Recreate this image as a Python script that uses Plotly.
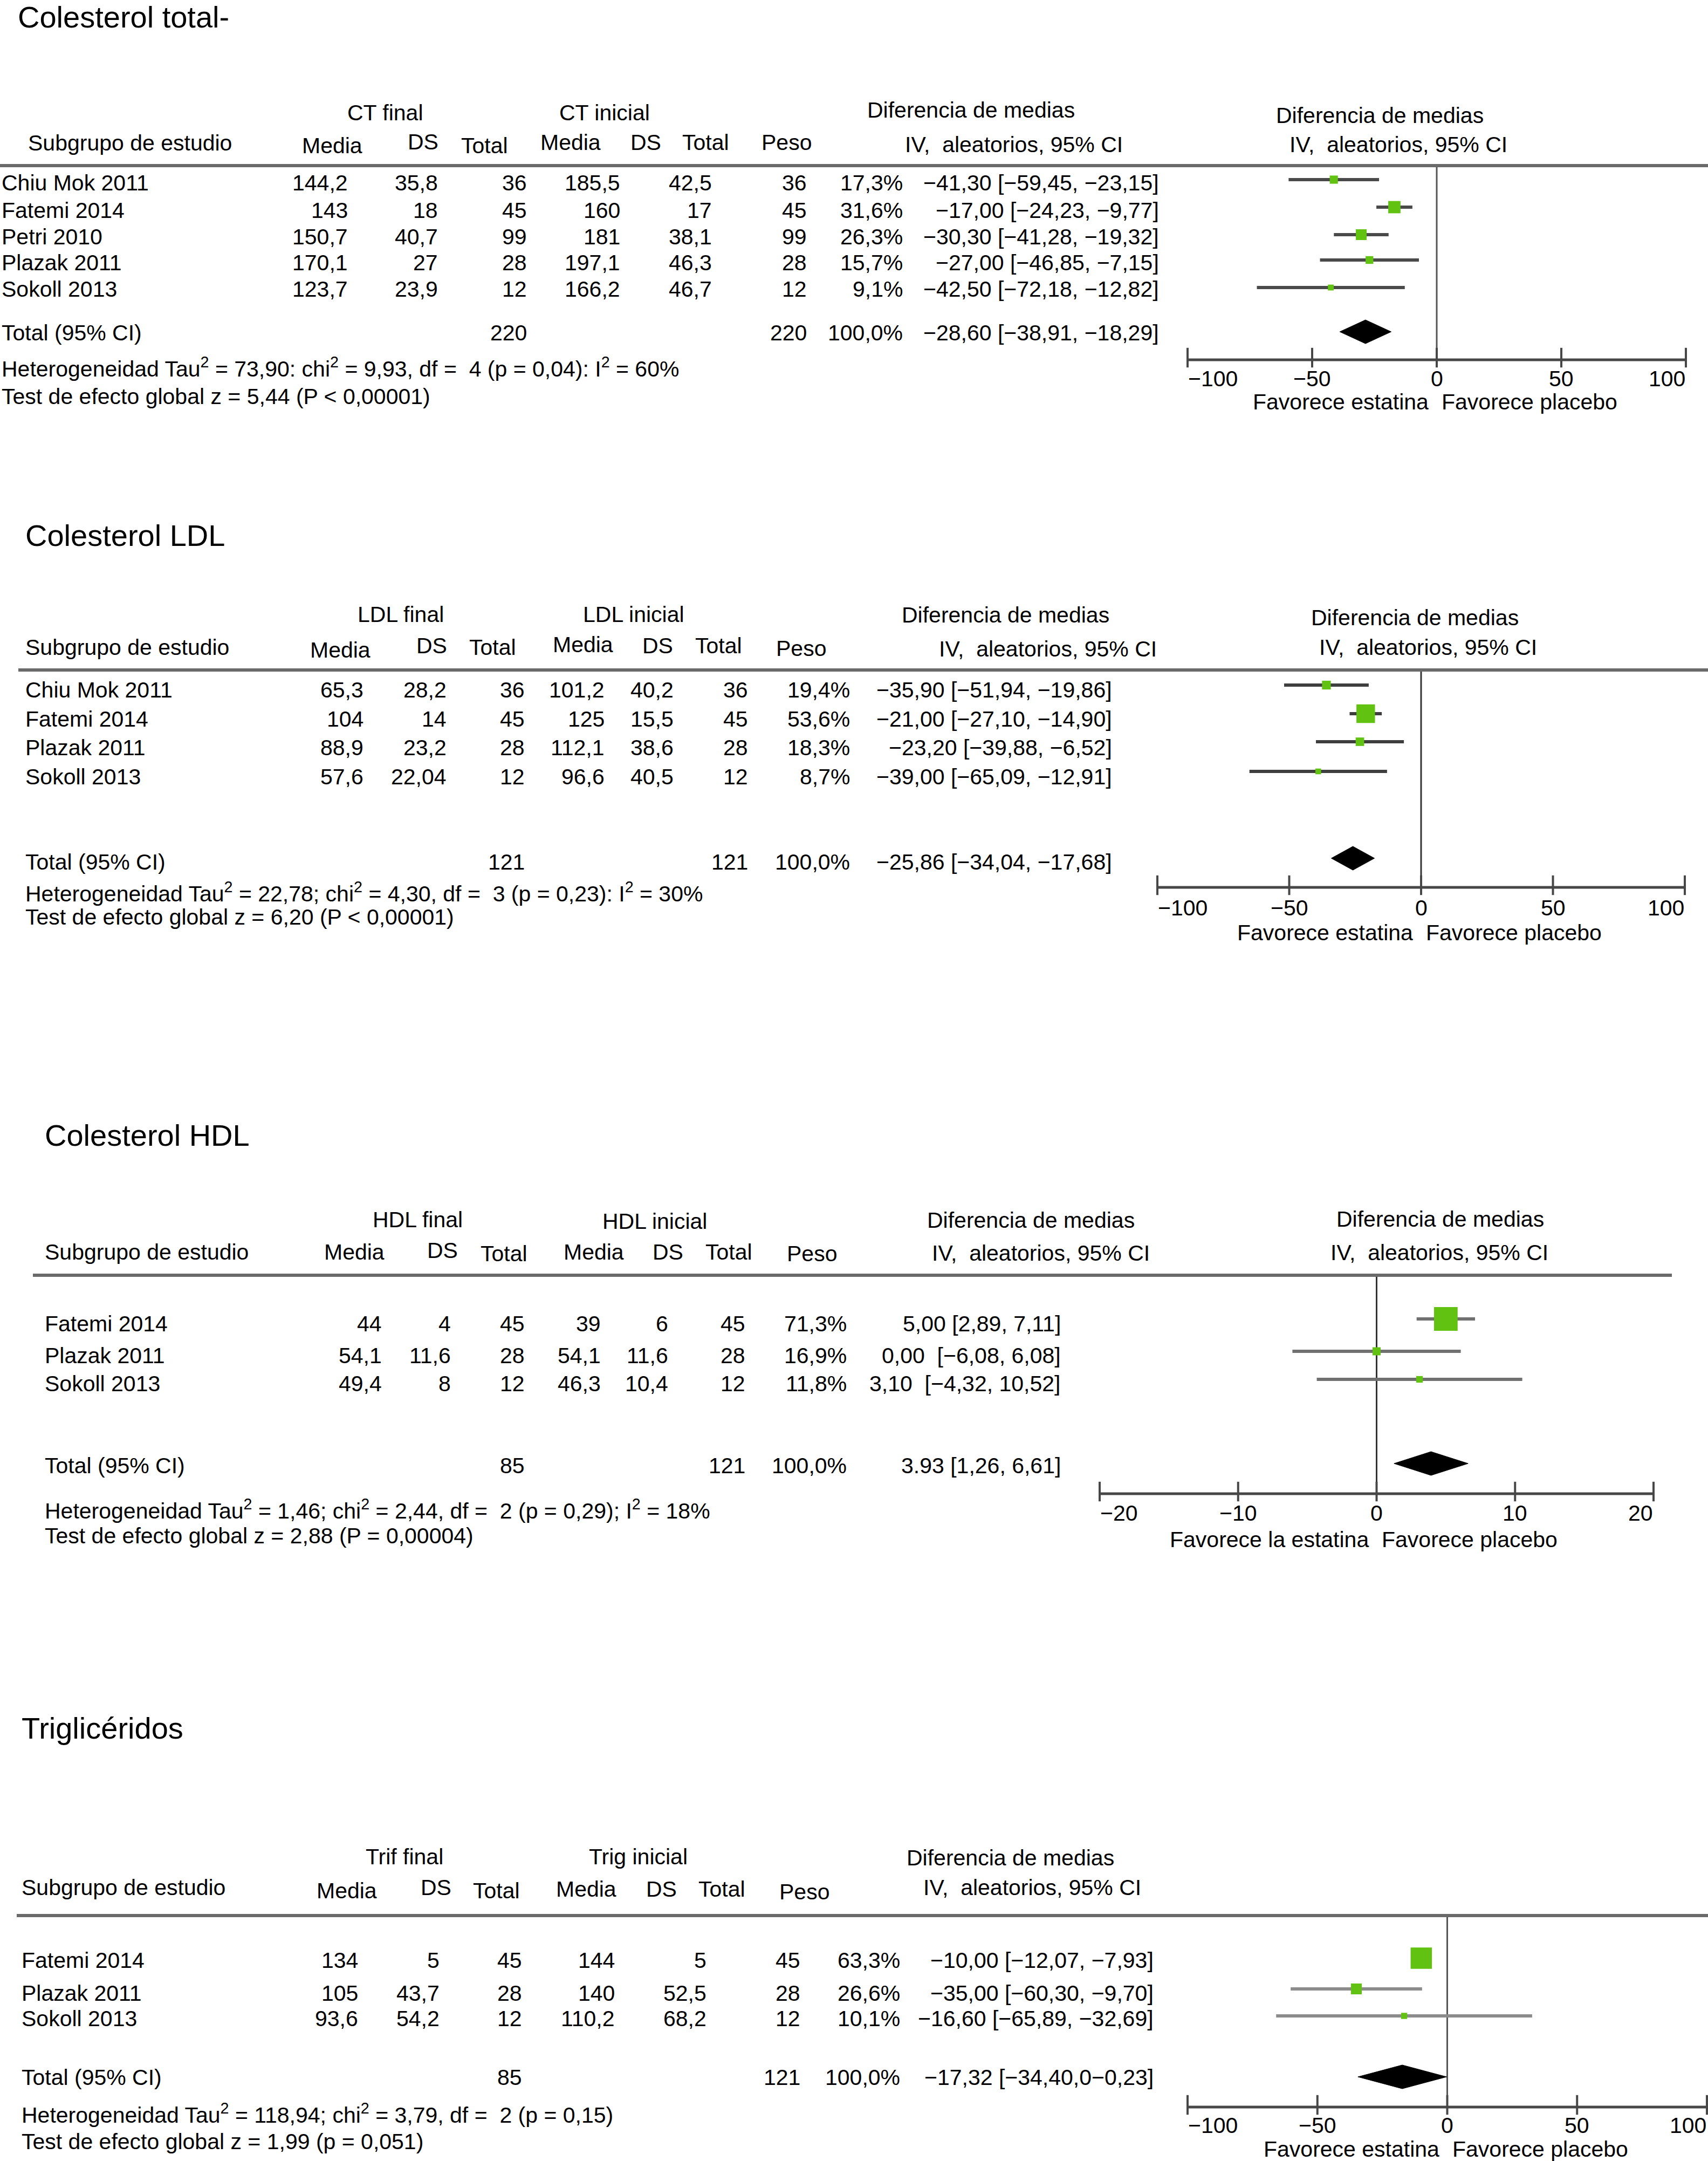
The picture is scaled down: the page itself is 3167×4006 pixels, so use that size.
import plotly.graph_objects as go

W, H = 3167, 4006
FONT = "Liberation Sans, Arial, Helvetica, sans-serif"
GREEN = "#62C212"
M = "\u2212"
NB = "\u00a0"

col_headers = ["Subgrupo de estudio", "Media", "DS", "Total", "Media", "DS", "Total", "Peso"]
dm_header = ["Diferencia de medias", "IV,  aleatorios, 95% CI"]
total_label = "Total (95% CI)"

# ---------------- Panel 1: Colesterol total ----------------
ct_title = "Colesterol total-"
ct_groups = ["CT final", "CT inicial"]
ct_studies = ["Chiu Mok 2011", "Fatemi 2014", "Petri 2010", "Plazak 2011", "Sokoll 2013"]
ct_final_mean = [144.2, 143, 150.7, 170.1, 123.7]
ct_final_sd = [35.8, 18, 40.7, 27, 23.9]
ct_final_n = [36, 45, 99, 28, 12]
ct_init_mean = [185.5, 160, 181, 197.1, 166.2]
ct_init_sd = [42.5, 17, 38.1, 46.3, 46.7]
ct_init_n = [36, 45, 99, 28, 12]
ct_weight = [17.3, 31.6, 26.3, 15.7, 9.1]
ct_md = [-41.30, -17.00, -30.30, -27.00, -42.50]
ct_lo = [-59.45, -24.23, -41.28, -46.85, -72.18]
ct_hi = [-23.15, -9.77, -19.32, -7.15, -12.82]
ct_ci_labels = [M + "41,30 [" + M + "59,45, " + M + "23,15]",
                M + "17,00 [" + M + "24,23, " + M + "9,77]",
                M + "30,30 [" + M + "41,28, " + M + "19,32]",
                M + "27,00 [" + M + "46,85, " + M + "7,15]",
                M + "42,50 [" + M + "72,18, " + M + "12,82]"]
ct_total_n = [220, 220]
ct_total_md, ct_total_lo, ct_total_hi = -28.60, -38.91, -18.29
ct_total_ci_label = M + "28,60 [" + M + "38,91, " + M + "18,29]"
ct_het = "Heterogeneidad Tau<sup>2</sup> = 73,90: chi<sup>2</sup> = 9,93, df = " + NB + "4 (p = 0,04): I<sup>2</sup> = 60%"
ct_test = "Test de efecto global z = 5,44 (P &lt; 0,00001)"
ct_ticks = [-100, -50, 0, 50, 100]
ct_tick_labels = [M + "100", M + "50", "0", "50", "100"]
ct_favours = ["Favorece estatina", "Favorece placebo"]

# ---------------- Panel 2: Colesterol LDL ----------------
ldl_title = "Colesterol LDL"
ldl_groups = ["LDL final", "LDL inicial"]
ldl_studies = ["Chiu Mok 2011", "Fatemi 2014", "Plazak 2011", "Sokoll 2013"]
ldl_final_mean = [65.3, 104, 88.9, 57.6]
ldl_final_sd = [28.2, 14, 23.2, 22.04]
ldl_final_n = [36, 45, 28, 12]
ldl_init_mean = [101.2, 125, 112.1, 96.6]
ldl_init_sd = [40.2, 15.5, 38.6, 40.5]
ldl_init_n = [36, 45, 28, 12]
ldl_weight = [19.4, 53.6, 18.3, 8.7]
ldl_md = [-35.90, -21.00, -23.20, -39.00]
ldl_lo = [-51.94, -27.10, -39.88, -65.09]
ldl_hi = [-19.86, -14.90, -6.52, -12.91]
ldl_ci_labels = [M + "35,90 [" + M + "51,94, " + M + "19,86]",
                 M + "21,00 [" + M + "27,10, " + M + "14,90]",
                 M + "23,20 [" + M + "39,88, " + M + "6,52]",
                 M + "39,00 [" + M + "65,09, " + M + "12,91]"]
ldl_total_n = [121, 121]
ldl_total_md, ldl_total_lo, ldl_total_hi = -25.86, -34.04, -17.68
ldl_total_ci_label = M + "25,86 [" + M + "34,04, " + M + "17,68]"
ldl_het = "Heterogeneidad Tau<sup>2</sup> = 22,78; chi<sup>2</sup> = 4,30, df = " + NB + "3 (p = 0,23): I<sup>2</sup> = 30%"
ldl_test = "Test de efecto global z = 6,20 (P &lt; 0,00001)"
ldl_ticks = [-100, -50, 0, 50, 100]
ldl_tick_labels = [M + "100", M + "50", "0", "50", "100"]
ldl_favours = ["Favorece estatina", "Favorece placebo"]

# ---------------- Panel 3: Colesterol HDL ----------------
hdl_title = "Colesterol HDL"
hdl_groups = ["HDL final", "HDL inicial"]
hdl_studies = ["Fatemi 2014", "Plazak 2011", "Sokoll 2013"]
hdl_final_mean = [44, 54.1, 49.4]
hdl_final_sd = [4, 11.6, 8]
hdl_final_n = [45, 28, 12]
hdl_init_mean = [39, 54.1, 46.3]
hdl_init_sd = [6, 11.6, 10.4]
hdl_init_n = [45, 28, 12]
hdl_weight = [71.3, 16.9, 11.8]
hdl_md = [5.00, 0.00, 3.10]
hdl_lo = [2.89, -6.08, -4.32]
hdl_hi = [7.11, 6.08, 10.52]
hdl_ci_labels = ["5,00 [2,89, 7,11]",
                 "0,00 " + NB + "[" + M + "6,08, 6,08]",
                 "3,10 " + NB + "[" + M + "4,32, 10,52]"]
hdl_total_n = [85, 121]
hdl_total_md, hdl_total_lo, hdl_total_hi = 3.93, 1.26, 6.61
hdl_total_ci_label = "3.93 [1,26, 6,61]"
hdl_het = "Heterogeneidad Tau<sup>2</sup> = 1,46; chi<sup>2</sup> = 2,44, df = " + NB + "2 (p = 0,29); I<sup>2</sup> = 18%"
hdl_test = "Test de efecto global z = 2,88 (P = 0,00004)"
hdl_ticks = [-20, -10, 0, 10, 20]
hdl_tick_labels = [M + "20", M + "10", "0", "10", "20"]
hdl_favours = ["Favorece la estatina", "Favorece placebo"]

# ---------------- Panel 4: Triglicéridos ----------------
tg_title = "Triglicéridos"
tg_groups = ["Trif final", "Trig inicial"]
tg_studies = ["Fatemi 2014", "Plazak 2011", "Sokoll 2013"]
tg_final_mean = [134, 105, 93.6]
tg_final_sd = [5, 43.7, 54.2]
tg_final_n = [45, 28, 12]
tg_init_mean = [144, 140, 110.2]
tg_init_sd = [5, 52.5, 68.2]
tg_init_n = [45, 28, 12]
tg_weight = [63.3, 26.6, 10.1]
tg_md = [-10.00, -35.00, -16.60]
tg_lo = [-12.07, -60.30, -65.89]
tg_hi = [-7.93, -9.70, 32.69]
tg_ci_labels = [M + "10,00 [" + M + "12,07, " + M + "7,93]",
                M + "35,00 [" + M + "60,30, " + M + "9,70]",
                M + "16,60 [" + M + "65,89, " + M + "32,69]"]
tg_total_n = [85, 121]
tg_total_md, tg_total_lo, tg_total_hi = -17.32, -34.40, -0.23
tg_total_ci_label = M + "17,32 [" + M + "34,40,0" + M + "0,23]"
tg_het = "Heterogeneidad Tau<sup>2</sup> = 118,94; chi<sup>2</sup> = 3,79, df = " + NB + "2 (p = 0,15)"
tg_test = "Test de efecto global z = 1,99 (p = 0,051)"
tg_ticks = [-100, -50, 0, 50, 100]
tg_tick_labels = [M + "100", M + "50", "0", "50", "100"]
tg_favours = ["Favorece estatina", "Favorece placebo"]


def fmt(v):
    return str(v).replace(".", ",")


def fmt_w(w):
    return ("%.1f%%" % w).replace(".", ",")


panels = [
    dict(title=ct_title, groups=ct_groups, studies=ct_studies,
         cols=[ct_final_mean, ct_final_sd, ct_final_n, ct_init_mean, ct_init_sd, ct_init_n],
         weight=ct_weight, md=ct_md, lo=ct_lo, hi=ct_hi, ci_labels=ct_ci_labels,
         total_n=ct_total_n, tmd=ct_total_md, tlo=ct_total_lo, thi=ct_total_hi,
         tci=ct_total_ci_label, het=ct_het, test=ct_test, ticks=ct_ticks,
         tick_labels=ct_tick_labels, fav=ct_favours,
         # layout (pixels)
         title_xy=(32, 31), group_x=[714, 1121], group_y=[209, 209],
         hdr_x=[51, 616, 784, 898, 1058, 1197, 1308, 1458], hdr_y=[265, 270, 263, 270, 264, 264, 264, 264],
         dm_text=[(1800, 204), (1880, 268)], dm_plot=[(2558, 214), (2593, 268)],
         hline=(0, 3167, 307), name_x=2, row_y=[339, 390, 439, 487, 536],
         forest_y=[333, 384, 435, 482, 533],
         right=[646, 813, 978, 1151, 1321, 1497, 1675, 2150],
         total_y=617, het_y=681, test_y=735,
         tmin_px=2202, tmax_px=3126, axis_y=667, top_y=307, dia_y=615, fav_y=745, tick_y=702,
         ci_color="#4a4a4a", zero_color="#555555"),
    dict(title=ldl_title, groups=ldl_groups, studies=ldl_studies,
         cols=[ldl_final_mean, ldl_final_sd, ldl_final_n, ldl_init_mean, ldl_init_sd, ldl_init_n],
         weight=ldl_weight, md=ldl_md, lo=ldl_lo, hi=ldl_hi, ci_labels=ldl_ci_labels,
         total_n=ldl_total_n, tmd=ldl_total_md, tlo=ldl_total_lo, thi=ldl_total_hi,
         tci=ldl_total_ci_label, het=ldl_het, test=ldl_test, ticks=ldl_ticks,
         tick_labels=ldl_tick_labels, fav=ldl_favours,
         title_xy=(46, 993), group_x=[743, 1175], group_y=[1139, 1139],
         hdr_x=[46, 631, 800, 913, 1081, 1219, 1332, 1485], hdr_y=[1200, 1205, 1197, 1200, 1195, 1197, 1197, 1202],
         dm_text=[(1864, 1140), (1943, 1203)], dm_plot=[(2623, 1145), (2648, 1200)],
         hline=(34, 3167, 1242), name_x=46, row_y=[1279, 1333, 1386, 1440],
         forest_y=[1270, 1323, 1375, 1430],
         right=[675, 829, 974, 1122, 1250, 1388, 1577, 2063],
         total_y=1598, het_y=1654, test_y=1700,
         tmin_px=2146, tmax_px=3124, axis_y=1645, top_y=1242, dia_y=1591, fav_y=1729, tick_y=1683,
         ci_color="#3e3e3e", zero_color="#333333"),
    dict(title=hdl_title, groups=hdl_groups, studies=hdl_studies,
         cols=[hdl_final_mean, hdl_final_sd, hdl_final_n, hdl_init_mean, hdl_init_sd, hdl_init_n],
         weight=hdl_weight, md=hdl_md, lo=hdl_lo, hi=hdl_hi, ci_labels=hdl_ci_labels,
         total_n=hdl_total_n, tmd=hdl_total_md, tlo=hdl_total_lo, thi=hdl_total_hi,
         tci=hdl_total_ci_label, het=hdl_het, test=hdl_test, ticks=hdl_ticks,
         tick_labels=hdl_tick_labels, fav=hdl_favours,
         title_xy=(82, 2104), group_x=[774, 1214], group_y=[2261, 2264],
         hdr_x=[82, 657, 820, 934, 1101, 1238, 1351, 1505], hdr_y=[2321, 2321, 2318, 2324, 2321, 2321, 2321, 2324],
         dm_text=[(1911, 2262), (1930, 2323)], dm_plot=[(2670, 2260), (2669, 2322)],
         hline=(61, 3100, 2364), name_x=82, row_y=[2454, 2513, 2565],
         forest_y=[2445, 2505, 2557],
         right=[709, 837, 974, 1115, 1240, 1383, 1571, 1968],
         total_y=2717, het_y=2798, test_y=2847,
         tmin_px=2039, tmax_px=3066, axis_y=2769, top_y=2364, dia_y=2713, fav_y=2854, tick_y=2805,
         ci_color="#707070", zero_color="#333333"),
    dict(title=tg_title, groups=tg_groups, studies=tg_studies,
         cols=[tg_final_mean, tg_final_sd, tg_final_n, tg_init_mean, tg_init_sd, tg_init_n],
         weight=tg_weight, md=tg_md, lo=tg_lo, hi=tg_hi, ci_labels=tg_ci_labels,
         total_n=tg_total_n, tmd=tg_total_md, tlo=tg_total_lo, thi=tg_total_hi,
         tci=tg_total_ci_label, het=tg_het, test=tg_test, ticks=tg_ticks,
         tick_labels=tg_tick_labels, fav=tg_favours,
         title_xy=(39, 3203), group_x=[750, 1183], group_y=[3442, 3442],
         hdr_x=[39, 643, 808, 920, 1087, 1226, 1338, 1491], hdr_y=[3499, 3505, 3499, 3505, 3502, 3502, 3502, 3507],
         dm_text=[(1873, 3444), (1914, 3499)], dm_plot=None,
         hline=(31, 3167, 3551), name_x=39, row_y=[3634, 3695, 3742],
         forest_y=[3630, 3687, 3737],
         right=[665, 816, 969, 1141, 1311, 1485, 1670, 2140],
         total_y=3851, het_y=3918, test_y=3970,
         tmin_px=2202, tmax_px=3165, axis_y=3906, top_y=3551, dia_y=3850, fav_y=3984, tick_y=3940,
         ci_color="#8c8c8c", zero_color="#555555"),
]

fig = go.Figure()
annotations = []
shapes = []


def px(x):
    return x / W


def py(y):
    return 1 - y / H


def text(x, y, s, anchor="left", size=41):
    annotations.append(dict(x=px(x), y=py(y), xref="paper", yref="paper", text=s,
                            showarrow=False, xanchor=anchor, yanchor="middle", borderpad=0,
                            font=dict(size=size, family=FONT, color="black")))


layout_axes = {}
for i, p in enumerate(panels):
    k = "" if i == 0 else str(i + 1)
    xa, ya = "x" + k, "y" + k

    # ----- table text -----
    text(p["title_xy"][0], p["title_xy"][1], p["title"], size=56)
    for g, gx, gy in zip(p["groups"], p["group_x"], p["group_y"]):
        text(gx, gy, g, anchor="center")
    for j, (h, hx, hy) in enumerate(zip(col_headers, p["hdr_x"], p["hdr_y"])):
        text(hx, hy, h, anchor="left" if j == 0 else "center")
    for (tx, ty), s in zip(p["dm_text"], dm_header):
        text(tx, ty, s, anchor="center")
    if p["dm_plot"]:
        for (tx, ty), s in zip(p["dm_plot"], dm_header):
            text(tx, ty, s, anchor="center")
    x0, x1, hy = p["hline"]
    shapes.append(dict(type="line", xref="paper", yref="paper", x0=px(x0), x1=px(x1),
                       y0=py(hy), y1=py(hy), line=dict(color="#6a6a6a", width=6)))

    r = p["right"]
    for s_i, name in enumerate(p["studies"]):
        y = p["row_y"][s_i]
        text(p["name_x"], y, name)
        for c_i, col in enumerate(p["cols"]):
            text(r[c_i], y, fmt(col[s_i]), anchor="right")
        text(r[6], y, fmt_w(p["weight"][s_i]), anchor="right")
        text(r[7], y, p["ci_labels"][s_i], anchor="right")
    text(p["name_x"], p["total_y"], total_label)
    text(r[2], p["total_y"], str(p["total_n"][0]), anchor="right")
    text(r[5], p["total_y"], str(p["total_n"][1]), anchor="right")
    text(r[6], p["total_y"], fmt_w(sum(p["weight"])), anchor="right")
    text(r[7], p["total_y"], p["tci"], anchor="right")
    text(p["name_x"], p["het_y"], p["het"])
    text(p["name_x"], p["test_y"], p["test"])

    # ----- forest axes -----
    t0, t1 = min(p["ticks"]), max(p["ticks"])
    scale = (p["tmax_px"] - p["tmin_px"]) / (t1 - t0)
    dl = p["tmin_px"] - 30
    dr = min(p["tmax_px"] + 30, W)
    xr = [t0 + (dl - p["tmin_px"]) / scale, t0 + (dr - p["tmin_px"]) / scale]
    ybot, ytop = p["axis_y"] + 40, p["top_y"] - 10
    layout_axes["xaxis" + k] = dict(domain=[px(dl), px(dr)], range=xr, anchor="free",
                                    position=py(p["axis_y"]), visible=False, fixedrange=True)
    layout_axes["yaxis" + k] = dict(domain=[py(ybot), py(ytop)], range=[ybot, ytop],
                                    visible=False, anchor=xa, fixedrange=True)

    # zero line
    fig.add_trace(go.Scatter(x=[0, 0], y=[p["top_y"], p["axis_y"]], mode="lines",
                             line=dict(color=p["zero_color"], width=3), xaxis=xa, yaxis=ya,
                             hoverinfo="skip", showlegend=False))
    # axis line + ticks
    fig.add_trace(go.Scatter(x=[t0, t1], y=[p["axis_y"], p["axis_y"]], mode="lines",
                             line=dict(color="#474747", width=5), xaxis=xa, yaxis=ya,
                             hoverinfo="skip", showlegend=False))
    fig.add_trace(go.Scatter(x=p["ticks"], y=[p["axis_y"] - 4] * len(p["ticks"]), mode="markers",
                             marker=dict(symbol="line-ns", size=26,
                                         line=dict(color="#474747", width=4)),
                             xaxis=xa, yaxis=ya, hoverinfo="skip", showlegend=False, cliponaxis=False))
    # tick labels (ends kept inside the axis span)
    n_t = len(p["ticks"])
    for t_i, (tv, tl) in enumerate(zip(p["ticks"], p["tick_labels"])):
        anch = "left" if t_i == 0 else ("right" if t_i == n_t - 1 else "center")
        annotations.append(dict(x=tv, y=py(p["tick_y"]), xref=xa, yref="paper", text=tl,
                                showarrow=False, xanchor=anch, yanchor="middle", borderpad=0,
                                font=dict(size=41, family=FONT, color="black")))
    # CI lines
    cx, cy = [], []
    for lo, hi, y in zip(p["lo"], p["hi"], p["forest_y"]):
        cx += [lo, hi, None]
        cy += [y, y, None]
    fig.add_trace(go.Scatter(x=cx, y=cy, mode="lines", line=dict(color=p["ci_color"], width=6),
                             xaxis=xa, yaxis=ya, hoverinfo="skip", showlegend=False))
    # study squares (size from weight)
    fig.add_trace(go.Scatter(x=p["md"], y=p["forest_y"], mode="markers",
                             marker=dict(symbol="square", color=GREEN, opacity=1,
                                         size=[6 + 0.53 * w for w in p["weight"]], line=dict(width=0)),
                             xaxis=xa, yaxis=ya, showlegend=False, cliponaxis=False))
    # diamond
    hh = 22
    fig.add_trace(go.Scatter(x=[p["tlo"], p["tmd"], p["thi"], p["tmd"], p["tlo"]],
                             y=[p["dia_y"], p["dia_y"] - hh, p["dia_y"], p["dia_y"] + hh, p["dia_y"]],
                             mode="lines", fill="toself", fillcolor="black",
                             line=dict(color="black", width=1), xaxis=xa, yaxis=ya,
                             hoverinfo="skip", showlegend=False))
    # favours labels
    annotations.append(dict(x=0, y=py(p["fav_y"]), xref=xa, yref="paper", text=p["fav"][0],
                            showarrow=False, xanchor="right", yanchor="middle", xshift=-14, borderpad=0,
                            font=dict(size=41, family=FONT, color="black")))
    annotations.append(dict(x=0, y=py(p["fav_y"]), xref=xa, yref="paper", text=p["fav"][1],
                            showarrow=False, xanchor="left", yanchor="middle", xshift=8, borderpad=0,
                            font=dict(size=41, family=FONT, color="black")))

fig.update_layout(width=W, height=H, margin=dict(l=0, r=0, t=0, b=0, pad=0),
                  paper_bgcolor="white", plot_bgcolor="rgba(0,0,0,0)",
                  annotations=annotations, shapes=shapes, showlegend=False,
                  font=dict(family=FONT, color="black"), **layout_axes)

fig.write_html("out.html", config={"displayModeBar": False, "staticPlot": True},
               post_script="document.body.style.margin='0';document.body.style.overflow='hidden';")
